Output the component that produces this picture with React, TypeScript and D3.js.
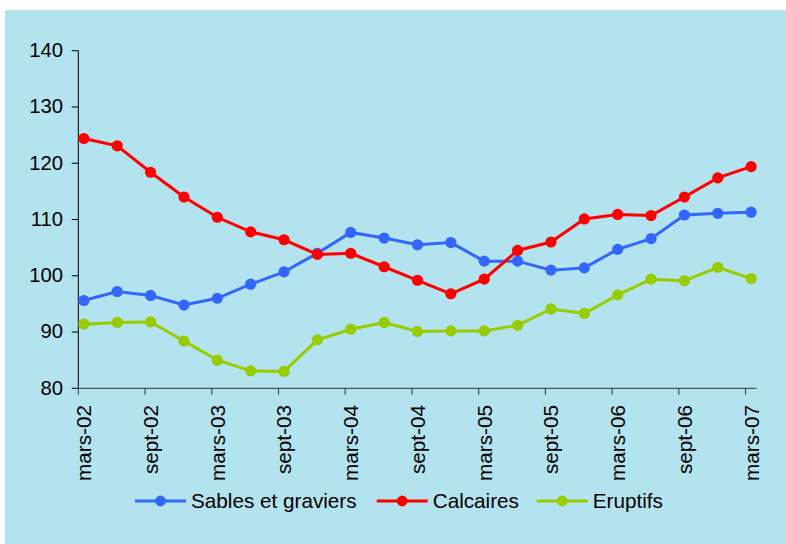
import React from "react";
import * as d3 from "d3";

// quarterly observations, mars-02 .. mars-07
const quarters = [
  "mars-02", "juin-02", "sept-02", "déc-02",
  "mars-03", "juin-03", "sept-03", "déc-03",
  "mars-04", "juin-04", "sept-04", "déc-04",
  "mars-05", "juin-05", "sept-05", "déc-05",
  "mars-06", "juin-06", "sept-06", "déc-06",
  "mars-07",
];

const sables = [
  95.6, 97.2, 96.5, 94.8, 96.0, 98.5, 100.7, 104.0, 107.7, 106.7, 105.5,
  105.9, 102.6, 102.6, 101.0, 101.4, 104.7, 106.6, 110.8, 111.1, 111.3,
];
const calcaires = [
  124.4, 123.1, 118.4, 114.0, 110.4, 107.8, 106.4, 103.8, 104.0, 101.6, 99.2,
  96.8, 99.4, 104.5, 106.0, 110.1, 110.9, 110.7, 114.0, 117.4, 119.4,
];
const eruptifs = [
  91.4, 91.7, 91.8, 88.4, 85.0, 83.1, 83.0, 88.6, 90.5, 91.7, 90.1,
  90.2, 90.2, 91.2, 94.1, 93.3, 96.6, 99.4, 99.1, 101.5, 99.5,
];

const tickLabels = [
  "mars-02", "sept-02", "mars-03", "sept-03", "mars-04", "sept-04",
  "mars-05", "sept-05", "mars-06", "sept-06", "mars-07",
];
const yTicks = [80, 90, 100, 110, 120, 130, 140];

const seriesNames = ["Sables et graviers", "Calcaires", "Eruptifs"];
const seriesColors = ["#3366FF", "#FF0000", "#99CC00"];

const W = 786;
const H = 544;
const FONT = "'Liberation Sans', Arial, sans-serif";

export default function App() {
  // months since mars-02; axis runs to avr-07
  const x = d3.scaleLinear().domain([0, 61]).range([78.3, 756.7]);
  const y = d3.scaleLinear().domain([80, 140]).range([388.3, 50.7]);

  const xOf = (i: number) => x(i * 3 + 0.5);
  const line = d3
    .line<number>()
    .x((_, i) => xOf(i))
    .y((d) => y(d));

  const allSeries = [sables, calcaires, eruptifs];
  const legendX = [135, 376.7, 536.7];
  const legendY = 501;

  return (
    <svg
      width={W}
      height={H}
      style={{ position: "absolute", left: 0, top: 0, background: "#fff" }}
      fontFamily={FONT}
    >
      <rect x={5} y={10} width={W - 5} height={H - 10} fill="#B3E3EE" />

      {/* y axis */}
      <line x1={x(0)} x2={x(0)} y1={y(140)} y2={y(80)} stroke="#000" strokeWidth={1} />
      {yTicks.map((t) => (
        <g key={t}>
          <line x1={x(0) - 6.5} x2={x(0)} y1={y(t)} y2={y(t)} stroke="#000" />
          <text x={63} y={y(t) + 6.3} textAnchor="end" fontSize={20.3} fill="#000">
            {t}
          </text>
        </g>
      ))}

      {/* x axis */}
      <line x1={x(0)} x2={x(61)} y1={y(80)} y2={y(80)} stroke="#333" strokeWidth={1} />
      {tickLabels.map((lab, i) => {
        const tx = x(i * 6);
        return (
          <g key={lab}>
            <line x1={tx} x2={tx} y1={y(80)} y2={y(80) + 6.5} stroke="#333" />
            <text
              transform={`translate(${tx + 13},405) rotate(-90)`}
              textAnchor="end"
              fontSize={20.7}
              fill="#000"
            >
              {lab}
            </text>
          </g>
        );
      })}

      {/* series */}
      {allSeries.map((s, k) => (
        <g key={seriesNames[k]}>
          <path d={line(s) ?? ""} fill="none" stroke={seriesColors[k]} strokeWidth={3} />
          {s.map((v, i) => (
            <circle key={quarters[i]} cx={xOf(i)} cy={y(v)} r={5.6} fill={seriesColors[k]} />
          ))}
        </g>
      ))}

      {/* legend */}
      {seriesNames.map((name, k) => (
        <g key={name} transform={`translate(${legendX[k]},${legendY})`}>
          <line x1={0} x2={51} y1={0} y2={0} stroke={seriesColors[k]} strokeWidth={3} />
          <circle cx={25.5} cy={0} r={5.4} fill={seriesColors[k]} />
          <text x={56} y={7.3} fontSize={20.7} fill="#000">
            {name}
          </text>
        </g>
      ))}
    </svg>
  );
}
